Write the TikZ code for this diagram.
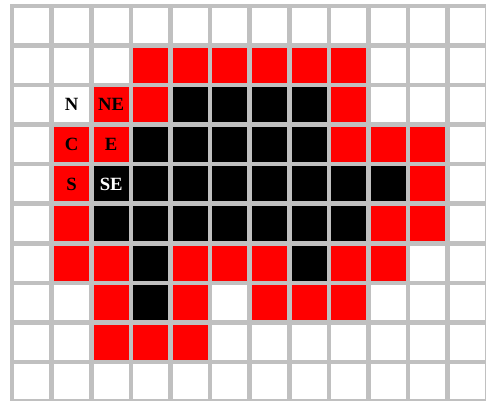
\documentclass[tikz,border=0pt]{standalone}
\usepackage{fontspec}
\setmainfont{Liberation Serif}
\usetikzlibrary{positioning}
\definecolor{gridgrey}{HTML}{C0C0C0}
\definecolor{blobred}{HTML}{FF0000}
\definecolor{blobdark}{HTML}{000000}
\tikzset{
  cell/.style={minimum size=35pt,inner sep=0pt,outer sep=0pt,fill=white},
  tag/.style={font=\fontsize{18.7}{22}\selectfont\bfseries,inner sep=0pt},
}

\begin{document}
\begin{tikzpicture}[x=39.6pt,y=-39.6pt]
    \useasboundingbox (-0.808,-0.644) rectangle (11.465,9.482);
    % fond gris, puis la grille de cases blanches
    \fill[gridgrey] (-0.556,-0.543) rectangle (11.465,9.482);
    \foreach \r in {0,...,9}
      \foreach \c in {0,...,11}
        \node[cell] (c-\c-\r) at (\c,\r) {};
    % cases rouges (bord de la forme)
    \foreach \c/\r in {3/1,4/1,5/1,6/1,7/1,8/1, 2/2,3/2,8/2,
                       1/3,2/3,8/3,9/3,10/3, 1/4,10/4, 1/5,9/5,10/5,
                       1/6,2/6,4/6,5/6,6/6,8/6,9/6, 2/7,4/7,6/7,7/7,8/7,
                       2/8,3/8,4/8}
      \fill[blobred] (c-\c-\r.north west) rectangle (c-\c-\r.south east);
    % cases noires (interieur)
    \foreach \c/\r in {4/2,5/2,6/2,7/2, 3/3,4/3,5/3,6/3,7/3,
                       2/4,3/4,4/4,5/4,6/4,7/4,8/4,9/4,
                       2/5,3/5,4/5,5/5,6/5,7/5,8/5, 3/6,7/6, 3/7}
      \fill[blobdark] (c-\c-\r.north west) rectangle (c-\c-\r.south east);
    % voisinage
    \node[tag] (lbl-n)  at (c-1-2) {N};
    \node[tag] (lbl-ne) at (c-2-2) {NE};
    \node[tag] (lbl-c)  at (c-1-3) {C};
    \node[tag] (lbl-e)  at (c-2-3) {E};
    \node[tag] (lbl-s)  at (c-1-4) {S};
    \node[tag,text=white] (lbl-se) at (c-2-4) {SE};
  \end{tikzpicture}
\end{document}
